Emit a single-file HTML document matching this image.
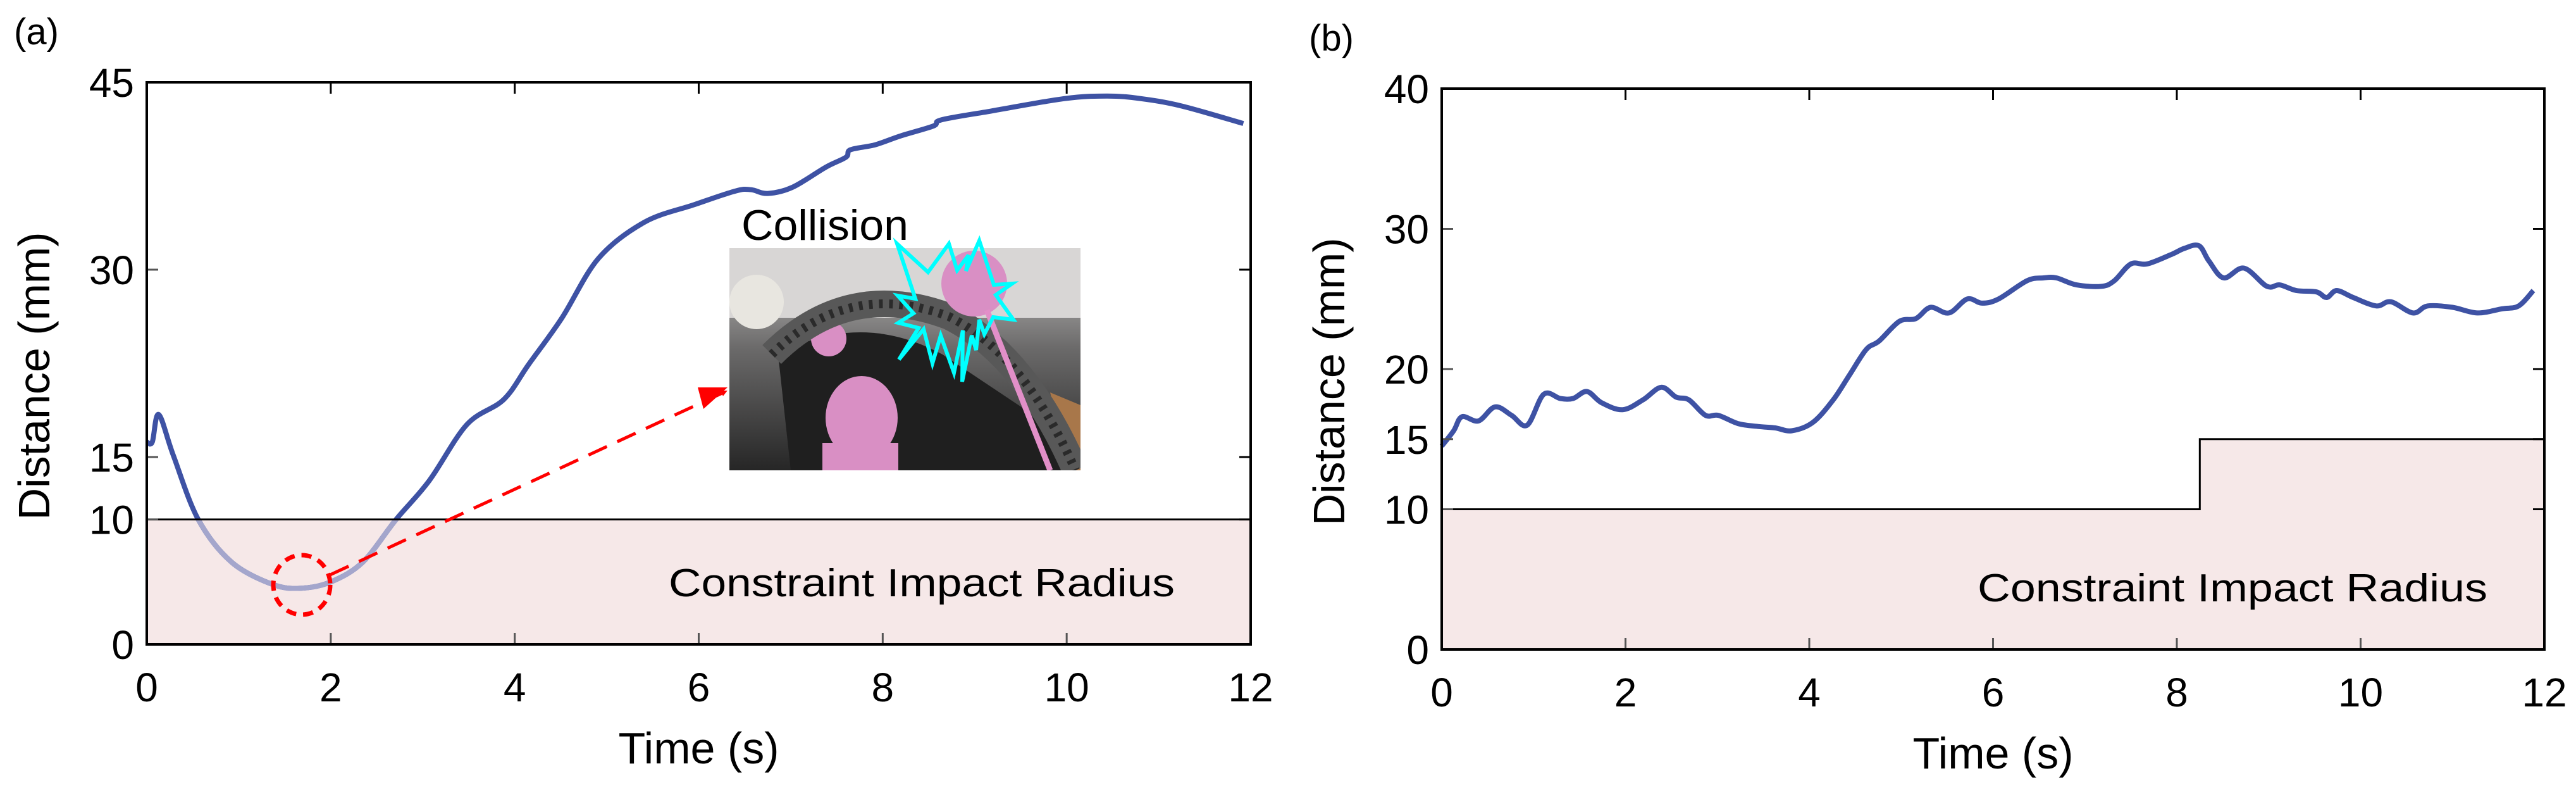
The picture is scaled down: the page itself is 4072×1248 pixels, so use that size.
<!DOCTYPE html>
<html><head><meta charset="utf-8"><style>
html,body{margin:0;padding:0;background:#fff;}
svg{display:block;font-family:"Liberation Sans",Arial,sans-serif;}
</style></head><body>
<svg id="fig" width="4072" height="1248" viewBox="0 0 4072 1248" xmlns="http://www.w3.org/2000/svg">
<defs>
<clipPath id="clipA"><rect x="232" y="130" width="1745" height="888"/></clipPath>
<clipPath id="clipALow"><rect x="232" y="821" width="1745" height="197"/></clipPath>
<clipPath id="clipPhoto"><rect x="1153" y="392" width="555" height="351"/></clipPath>
<linearGradient id="photoBg" x1="0" y1="0" x2="0" y2="1">
<stop offset="0" stop-color="#c9c7c6"/><stop offset="0.45" stop-color="#6b6a6a"/><stop offset="1" stop-color="#262626"/></linearGradient>
<marker id="arrowHead" markerWidth="10" markerHeight="10" refX="8" refY="5" orient="auto" markerUnits="userSpaceOnUse" viewBox="0 0 10 10"><path d="M0,0 L10,5 L0,10 z" fill="#ff0000"/></marker>
</defs>
<g id="panelA"></g>
<g id="panelB"></g>
</svg>
<script>
// Panel (a) data
const timeA = [0,0.06,0.13,0.29,0.56,0.92,1.37,1.68,2.0,2.35,2.71,3.07,3.48,3.88,4.15,4.51,4.91,5.41,5.95,6.4,6.57,6.75,7.02,7.38,7.6,7.65,7.92,8.19,8.55,8.64,9.18,9.98,10.44,10.8,11.25,11.92];
const distA = [16.2,16.2,18.4,15.1,10.0,6.6,4.8,4.5,5.0,6.6,10.0,13.1,17.6,19.6,22.4,26.1,30.9,33.8,35.2,36.3,36.4,36.1,36.6,38.2,39.0,39.6,40.0,40.7,41.5,42.0,42.7,43.7,43.9,43.7,43.1,41.7];
const xTicksA = [0,2,4,6,8,10,12];
const yTicksA = [0,10,15,30,45];
const radiusA = 10;
// Panel (b) data
const timeB = [0,0.13,0.22,0.4,0.58,0.76,0.93,1.11,1.29,1.43,1.58,1.74,1.97,2.19,2.39,2.55,2.69,2.87,3.01,3.23,3.45,3.63,3.81,4.04,4.26,4.44,4.62,4.76,4.98,5.16,5.32,5.52,5.72,5.88,6.06,6.37,6.55,6.69,6.91,7.18,7.32,7.5,7.68,7.95,8.08,8.24,8.35,8.51,8.73,8.98,9.12,9.3,9.52,9.63,9.74,9.92,10.17,10.33,10.57,10.73,11.0,11.27,11.54,11.72,11.88];
const distB = [14.5,15.6,16.6,16.3,17.3,16.7,16.0,18.2,17.9,17.9,18.4,17.6,17.1,17.8,18.7,18.0,17.8,16.7,16.7,16.1,15.9,15.8,15.6,16.2,17.8,19.6,21.4,22.0,23.4,23.6,24.4,24.0,25.0,24.7,25.0,26.3,26.5,26.5,26.0,25.9,26.3,27.5,27.5,28.2,28.6,28.8,27.7,26.5,27.2,25.9,26.0,25.6,25.5,25.1,25.6,25.1,24.5,24.8,24.0,24.5,24.4,24.0,24.3,24.5,25.6];
const xTicksB = [0,2,4,6,8,10,12];
const yTicksB = [0,10,15,20,30,40];
const stepTimesB = [0,8.25,12];
const stepRadiiB = [10,15];

const NS = "http://www.w3.org/2000/svg";
function mk(tag, attrs, parent, text){
  const e = document.createElementNS(NS, tag);
  for (const k in attrs) e.setAttribute(k, attrs[k]);
  if (text !== undefined) e.textContent = text;
  parent.appendChild(e);
  return e;
}
function axisX(x0,x1,max){return v => x0 + (x1-x0)*v/max;}
function axisY(y0,y1,max){return v => y0 - (y0-y1)*v/max;}
function smoothPath(pts){
  let d = `M${pts[0][0].toFixed(1)},${pts[0][1].toFixed(1)}`;
  for (let i=0;i<pts.length-1;i++){
    const p0=pts[Math.max(0,i-1)],p1=pts[i],p2=pts[i+1],p3=pts[Math.min(pts.length-1,i+2)];
    const c1x=p1[0]+(p2[0]-p0[0])/6,c1y=p1[1]+(p2[1]-p0[1])/6;
    const c2x=p2[0]-(p3[0]-p1[0])/6,c2y=p2[1]-(p3[1]-p1[1])/6;
    d += ` C${c1x.toFixed(1)},${c1y.toFixed(1)} ${c2x.toFixed(1)},${c2y.toFixed(1)} ${p2[0].toFixed(1)},${p2[1].toFixed(1)}`;
  }
  return d;
}

function drawFrame(g, L, R, T, B, sx, sy, xt, yt, tag){
  const fs = 64;
  xt.forEach(v=>{
    const x = sx(v);
    let t = mk('line',{x1:x,x2:x,y1:B,y2:B-18,stroke:'#555','stroke-width':3},g);
     
    t = mk('line',{x1:x,x2:x,y1:T,y2:T+18,stroke:'#000','stroke-width':3},g);
     
    const lb = mk('text',{x:x,y:B+90,'font-size':fs,'text-anchor':'middle',fill:'#000'},g,String(v));
     
  });
  yt.forEach(v=>{
    const y = sy(v);
    let t = mk('line',{x1:L,x2:L+18,y1:y,y2:y,stroke:'#555','stroke-width':3},g);
     
    t = mk('line',{x1:R,x2:R-18,y1:y,y2:y,stroke:'#000','stroke-width':3},g);
     
    const lb = mk('text',{x:L-20,y:y+23,'font-size':fs,'text-anchor':'end',fill:'#000'},g,String(v));
     
  });
  const fr = mk('rect',{x:L,y:T,width:R-L,height:B-T,fill:'none',stroke:'#000','stroke-width':4},g);
   
  const xl = mk('text',{x:(L+R)/2,y:B+188,'font-size':70,'text-anchor':'middle',fill:'#000'},g,'Time (s)');
   
  const yl = mk('text',{x:0,y:0,'font-size':70,'text-anchor':'middle',fill:'#000',transform:`translate(${L-154},${(T+B)/2+20}) rotate(-90)`,'xml:space':'preserve'},g,'Distance  (mm)');
   
  const pl = mk('text',{x:L-210,y:T-60,'font-size':58,fill:'#000'},g,tag);
   
}

// ---------- Panel A ----------
(function(){
  const g = document.getElementById('panelA');
  const L=232,R=1977,T=130,B=1018;
  const sx = axisX(L,R,12), sy = axisY(B,T,45);
  const band = mk('rect',{x:L,y:sy(radiusA),width:R-L,height:B-sy(radiusA),fill:'#f6e8e8'},g);
   
  const d = smoothPath(timeA.map((t,i)=>[sx(t),sy(distA[i])]));
  const ln = mk('path',{d:d,fill:'none',stroke:'#3e52a4','stroke-width':8,'stroke-linejoin':'round','clip-path':'url(#clipA)'},g);
   
  const ln2 = mk('path',{d:d,fill:'none',stroke:'#a4a6cc','stroke-width':8,'stroke-linejoin':'round','clip-path':'url(#clipALow)'},g);
   
  const bl = mk('line',{x1:L,x2:R,y1:sy(radiusA),y2:sy(radiusA),stroke:'#000','stroke-width':3},g);
   
  const ct = mk('text',{x:1057,y:942,'font-size':62,fill:'#000',textLength:800,lengthAdjust:'spacingAndGlyphs'},g,'Constraint Impact Radius');
   
  const el = mk('ellipse',{cx:477,cy:924,rx:45,ry:47,fill:'none',stroke:'#ff0000','stroke-width':7,'stroke-dasharray':'16 11'},g);
   
  const ar = mk('line',{x1:522,y1:908,x2:1148,y2:618,stroke:'#ff0000','stroke-width':5,'stroke-dasharray':'32 18','marker-end':'url(#arrowHead)'},g);
   
  mk('path',{d:'M1150,612 L1103,612 L1112,646 z',fill:'#ff0000'},g);
  const ph = mk('g',{'clip-path':'url(#clipPhoto)'},g);
   
  mk('rect',{x:1153,y:392,width:555,height:351,fill:'url(#photoBg)'},ph);
  mk('rect',{x:1153,y:392,width:555,height:110,fill:'#d8d6d5'},ph);
  mk('path',{d:'M1230,560 Q1360,490 1490,560 L1640,660 L1700,743 L1250,743 z',fill:'#1f1f1f'},ph);
  mk('path',{d:'M1660,620 L1708,640 L1708,743 L1690,743 z',fill:'#a8774a'},ph);
  mk('circle',{cx:1196,cy:477,r:43,fill:'#e8e6e0'},ph);
  mk('circle',{cx:1310,cy:535,r:28,fill:'#d98fc4'},ph);
  mk('path',{d:'M1220,560 Q1340,440 1500,500 Q1620,560 1700,743',fill:'none',stroke:'#585858','stroke-width':42},ph);
  mk('path',{d:'M1220,560 Q1340,440 1500,500 Q1620,560 1700,743',fill:'none',stroke:'#2a2a2a','stroke-width':14,'stroke-dasharray':'6 10'},ph);
  mk('circle',{cx:1540,cy:448,r:52,fill:'#d98fc4'},ph);
  mk('line',{x1:1560,y1:490,x2:1660,y2:743,stroke:'#e28fc8','stroke-width':9},ph);
  mk('ellipse',{cx:1362,cy:660,rx:57,ry:66,fill:'#d98fc4'},ph);
  mk('rect',{x:1300,y:700,width:120,height:43,fill:'#d98fc4'},ph);
  const star = mk('polygon',{points:'1500,385 1513,427 1531,403 1527,428 1548,380 1571,450 1600,448 1574,466 1602,505 1570,501 1556,528 1548,505 1543,553 1536,530 1521,603 1522,522 1508,589 1487,530 1474,574 1460,520 1421,568 1452,518 1420,510 1444,495 1419,467 1447,472 1418,385 1467,430',fill:'none',stroke:'#00ffff','stroke-width':6,'stroke-linejoin':'miter'},g);
   
  const cl = mk('text',{x:1172,y:379,'font-size':68,fill:'#000',textLength:264,lengthAdjust:'spacingAndGlyphs'},g,'Collision');
   
  drawFrame(g,L,R,T,B,sx,sy,xTicksA,yTicksA,'(a)');
})();

// ---------- Panel B ----------
(function(){
  const g = document.getElementById('panelB');
  const L=2279,R=4022,T=140,B=1026;
  const sx = axisX(L,R,12), sy = axisY(B,T,40);
  let d = `M${sx(stepTimesB[0])},${B}`;
  stepRadiiB.forEach((r,i)=>{ d += ` L${sx(stepTimesB[i])},${sy(r)} L${sx(stepTimesB[i+1])},${sy(r)}`; });
  d += ` L${sx(stepTimesB[stepTimesB.length-1])},${B} z`;
  const band = mk('path',{d:d,fill:'#f6e8e8'},g);
   
  let sd = '';
  stepRadiiB.forEach((r,i)=>{ sd += `${i?'L':'M'}${sx(stepTimesB[i])},${sy(r)} L${sx(stepTimesB[i+1])},${sy(r)} `; });
  const bl = mk('path',{d:sd,fill:'none',stroke:'#000','stroke-width':3},g);
   
  const pd = smoothPath(timeB.map((t,i)=>[sx(t),sy(distB[i])]));
  const ln = mk('path',{d:pd,fill:'none',stroke:'#3e52a4','stroke-width':8,'stroke-linejoin':'round'},g);
   
  const ct = mk('text',{x:3126,y:950,'font-size':62,fill:'#000',textLength:806,lengthAdjust:'spacingAndGlyphs'},g,'Constraint Impact Radius');
   
  drawFrame(g,L,R,T,B,sx,sy,xTicksB,yTicksB,'(b)');
})();
</script>
</body></html>
